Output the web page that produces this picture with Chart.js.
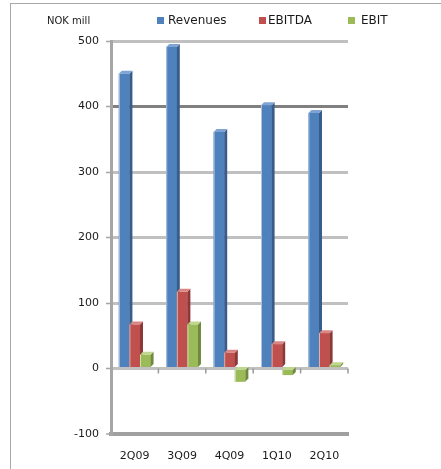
<!DOCTYPE html>
<html>
<head>
<meta charset="utf-8">
<script src="https://cdn.jsdelivr.net/npm/chart.js@4"></script>
<style>
  html, body { margin:0; padding:0; background:#fff; }
  body { width:441px; height:469px; position:relative; overflow:hidden; font-family:"DejaVu Sans", sans-serif; color:#1a1a1a; }
  #frame { position:absolute; left:10px; top:3px; width:440px; height:480px; border-left:1px solid #a8a8a8; border-top:1px solid #a8a8a8; }
  #c { position:absolute; left:0; top:0; }
  .lbl { position:absolute; white-space:nowrap; line-height:14px; }
  .box { position:absolute; width:7px; height:7px; }
</style>
</head>
<body>
<div id="frame"></div>
<canvas id="c" width="441" height="469"></canvas>
<div class="lbl" style="left:47px; top:14px; font-size:10px;">NOK mill</div>
<div id="legend"></div>
<script>
const categories = ['2Q09', '3Q09', '4Q09', '1Q10', '2Q10'];
const revenues = [450, 491, 361, 402, 390];
const ebitda = [67, 117, 24, 37, 54];
const ebit = [21, 67, -20, -10, 5];
const yTicks = [-100, 0, 100, 200, 300, 400, 500];
const seriesNames = ['Revenues', 'EBITDA', 'EBIT'];
const frontColors = ['#4f81bd', '#c0504d', '#9bbb59'];
const sideColors = ['#385d8a', '#8c3836', '#71893f'];
const topColors = ['#7fa3d3', '#d98784', '#bfd68e'];

// HTML legend
const legendPos = [[157, 168], [259, 268], [348, 361]];
const legendEl = document.getElementById('legend');
seriesNames.forEach((n, i) => {
  const b = document.createElement('div');
  b.className = 'box';
  b.style.left = legendPos[i][0] + 'px';
  b.style.top = '17px';
  b.style.background = frontColors[i];
  legendEl.appendChild(b);
  const t = document.createElement('div');
  t.className = 'lbl';
  t.style.left = legendPos[i][1] + 'px';
  t.style.top = '13px';
  t.style.fontSize = '12px';
  t.textContent = n;
  legendEl.appendChild(t);
});

const depth = 3;
const bar3d = {
  id: 'bar3d',
  beforeDatasetsDraw(chart) {
    const ctx = chart.ctx;
    const xs = chart.scales.x, ys = chart.scales.y;
    const y0 = ys.getPixelForValue(0);
    const step = xs.width / categories.length;
    ctx.save();
    ctx.strokeStyle = '#9a9a9a';
    ctx.lineWidth = 1.5;
    for (let i = 0; i < categories.length; i++) {
      const x = xs.getPixelForValue(i) + step / 2;
      ctx.beginPath();
      ctx.moveTo(x, y0);
      ctx.lineTo(x, y0 + 5);
      ctx.stroke();
    }
    ctx.restore();
  },
  afterDatasetsDraw(chart) {
    const ctx = chart.ctx;
    const n = chart.data.datasets.length;
    for (let c = 0; c < categories.length; c++) {
      for (let i = 0; i < n; i++) {
        const bar = chart.getDatasetMeta(i).data[c];
        if (!bar) continue;
        bar.draw(ctx, chart.chartArea);
        const p = bar.getProps(['x', 'y', 'base', 'width'], true);
        const l = p.x - p.width / 2, r = p.x + p.width / 2;
        const top = Math.min(p.y, p.base), bot = Math.max(p.y, p.base);
        ctx.save();
        ctx.fillStyle = sideColors[i];
        ctx.beginPath();
        ctx.moveTo(r, top);
        ctx.lineTo(r + depth, top - depth);
        ctx.lineTo(r + depth, bot - depth);
        ctx.lineTo(r, bot);
        ctx.closePath();
        ctx.fill();
        ctx.fillStyle = topColors[i];
        ctx.beginPath();
        ctx.moveTo(l, top);
        ctx.lineTo(l + depth, top - depth);
        ctx.lineTo(r + depth, top - depth);
        ctx.lineTo(r, top);
        ctx.closePath();
        ctx.fill();
        ctx.strokeStyle = 'rgba(255,255,255,0.55)';
        ctx.lineWidth = 1;
        ctx.beginPath();
        ctx.moveTo(l + 0.5, bot);
        ctx.lineTo(l + 0.5, top);
        ctx.stroke();
        ctx.restore();
      }
    }
  }
};

new Chart(document.getElementById('c'), {
  type: 'bar',
  data: {
    labels: categories,
    datasets: [
      { label: seriesNames[0], data: revenues, backgroundColor: frontColors[0] },
      { label: seriesNames[1], data: ebitda, backgroundColor: frontColors[1] },
      { label: seriesNames[2], data: ebit, backgroundColor: frontColors[2] }
    ]
  },
  options: {
    responsive: false,
    animation: false,
    devicePixelRatio: 1,
    layout: { padding: { top: 41, right: 93, bottom: 0, left: 0 } },
    datasets: { bar: { barPercentage: 1, categoryPercentage: 0.67, borderWidth: 0 } },
    plugins: { legend: { display: false }, title: { display: false }, tooltip: { enabled: false } },
    scales: {
      x: {
        grid: { display: false, drawTicks: false },
        border: { display: true, color: '#a0a0a0', width: 4 },
        ticks: { padding: 16, color: '#1a1a1a', font: { family: 'DejaVu Sans', size: 11 } },
        afterFit(s) { s.height = 35; }
      },
      y: {
        min: -100, max: 500,
        afterBuildTicks(s) { s.ticks = yTicks.map(v => ({ value: v })); },
        grid: {
          color: c => c.tick && c.tick.value === 400 ? '#808080' : (c.tick && c.tick.value === -100 ? '#a0a0a0' : '#c0c0c0'),
          lineWidth: c => c.tick && c.tick.value === -100 ? 4 : 3,
          tickLength: 5,
          tickColor: '#a6a6a6',
          tickWidth: 1.5
        },
        border: { display: true, color: '#a6a6a6', width: 3 },
        ticks: { padding: 7, color: '#1a1a1a', font: { family: 'DejaVu Sans', size: 11 } },
        afterFit(s) { s.width = 111; }
      }
    }
  },
  plugins: [bar3d]
});
</script>
</body>
</html>
